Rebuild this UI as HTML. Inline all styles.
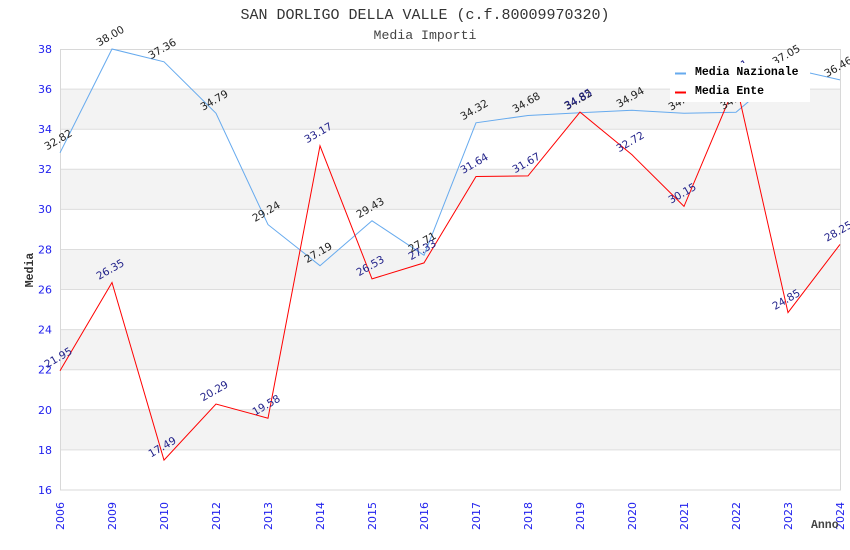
<!DOCTYPE html>
<html><head><meta charset="utf-8">
<style>
html,body{margin:0;padding:0;background:#fff;}
svg{display:block;}
.tk{font-family:"DejaVu Sans","Liberation Sans",sans-serif;font-size:11px;fill:#2222ee;}
.lb{font-family:"DejaVu Sans","Liberation Sans",sans-serif;font-size:10.5px;}
.mono{font-family:"Liberation Mono","DejaVu Sans Mono",monospace;}
</style></head>
<body>
<svg width="850" height="550" viewBox="0 0 850 550" xmlns="http://www.w3.org/2000/svg">
<rect width="850" height="550" fill="#fff"/>
<text x="425" y="19" text-anchor="middle" class="mono" font-size="15" fill="#333">SAN DORLIGO DELLA VALLE (c.f.80009970320)</text>
<text x="425" y="39" text-anchor="middle" class="mono" font-size="13.2" fill="#444">Media Importi</text>

<!-- bands -->
<g fill="#f3f3f3">
<rect x="60" y="89.1" width="780" height="40.1"/>
<rect x="60" y="169.3" width="780" height="40.1"/>
<rect x="60" y="249.5" width="780" height="40.1"/>
<rect x="60" y="329.6" width="780" height="40.1"/>
<rect x="60" y="409.8" width="780" height="40.1"/>
</g>
<g stroke="#dddddd" stroke-width="1">
<line x1="60" x2="840" y1="89.1" y2="89.1"/>
<line x1="60" x2="840" y1="129.2" y2="129.2"/>
<line x1="60" x2="840" y1="169.3" y2="169.3"/>
<line x1="60" x2="840" y1="209.4" y2="209.4"/>
<line x1="60" x2="840" y1="249.5" y2="249.5"/>
<line x1="60" x2="840" y1="289.5" y2="289.5"/>
<line x1="60" x2="840" y1="329.6" y2="329.6"/>
<line x1="60" x2="840" y1="369.7" y2="369.7"/>
<line x1="60" x2="840" y1="409.8" y2="409.8"/>
<line x1="60" x2="840" y1="449.9" y2="449.9"/>
</g>
<rect x="60.5" y="49.5" width="780" height="440.5" fill="none" stroke="#d8d8d8" stroke-width="1"/>

<!-- y ticks -->
<g class="tk" text-anchor="end">
<text x="52" y="53">38</text>
<text x="52" y="93">36</text>
<text x="52" y="133">34</text>
<text x="52" y="173">32</text>
<text x="52" y="213">30</text>
<text x="52" y="253.5">28</text>
<text x="52" y="293.5">26</text>
<text x="52" y="333.5">24</text>
<text x="52" y="373.5">22</text>
<text x="52" y="414">20</text>
<text x="52" y="454">18</text>
<text x="52" y="494">16</text>
</g>
<!-- x ticks -->
<g class="tk" text-anchor="end">
<text transform="translate(64,502) rotate(-90)">2006</text>
<text transform="translate(116,502) rotate(-90)">2009</text>
<text transform="translate(168,502) rotate(-90)">2010</text>
<text transform="translate(220,502) rotate(-90)">2012</text>
<text transform="translate(272,502) rotate(-90)">2013</text>
<text transform="translate(324,502) rotate(-90)">2014</text>
<text transform="translate(376,502) rotate(-90)">2015</text>
<text transform="translate(428,502) rotate(-90)">2016</text>
<text transform="translate(480,502) rotate(-90)">2017</text>
<text transform="translate(532,502) rotate(-90)">2018</text>
<text transform="translate(584,502) rotate(-90)">2019</text>
<text transform="translate(636,502) rotate(-90)">2020</text>
<text transform="translate(688,502) rotate(-90)">2021</text>
<text transform="translate(740,502) rotate(-90)">2022</text>
<text transform="translate(792,502) rotate(-90)">2023</text>
<text transform="translate(844,502) rotate(-90)">2024</text>
</g>

<text transform="translate(33,270) rotate(-90)" text-anchor="middle" class="mono" font-size="11.5" font-weight="bold" fill="#333">Media</text>
<text x="811" y="528" class="mono" font-size="11.5" font-weight="bold" fill="#444">Anno</text>

<!-- series -->
<polyline fill="none" stroke="#66aaee" stroke-width="1" points="60,152.8 112,49 164,61.8 216,113.3 268,224.6 320,265.7 372,220.8 424,255.3 476,122.8 528,115.5 580,112.7 632,110.3 684,113.3 736,112.3 788,68 840,79.9"/>
<polyline fill="none" stroke="#ff0000" stroke-width="1" points="60,370.7 112,282.5 164,460.1 216,404 268,418.2 320,145.8 372,278.9 424,262.9 476,176.5 528,175.9 580,112.1 632,154.8 684,206.4 736,82.9 788,312.6 840,244.4"/>

<!-- labels nazionale -->
<g class="lb" fill="#222" text-anchor="middle">
<text transform="translate(60,142.8) rotate(-30)">32.82</text>
<text transform="translate(112,39) rotate(-30)">38.00</text>
<text transform="translate(164,51.8) rotate(-30)">37.36</text>
<text transform="translate(216,103.3) rotate(-30)">34.79</text>
<text transform="translate(268,214.6) rotate(-30)">29.24</text>
<text transform="translate(320,255.7) rotate(-30)">27.19</text>
<text transform="translate(372,210.8) rotate(-30)">29.43</text>
<text transform="translate(424,245.3) rotate(-30)">27.71</text>
<text transform="translate(476,112.8) rotate(-30)">34.32</text>
<text transform="translate(528,105.5) rotate(-30)">34.68</text>
<text transform="translate(580,102.7) rotate(-30)">34.82</text>
<text transform="translate(632,100.3) rotate(-30)">34.94</text>
<text transform="translate(684,103.3) rotate(-30)">34.79</text>
<text transform="translate(736,102.3) rotate(-30)">34.84</text>
<text transform="translate(788,58) rotate(-30)">37.05</text>
<text transform="translate(840,69.9) rotate(-30)">36.46</text>
</g>
<!-- labels ente -->
<g class="lb" fill="#22228a" text-anchor="middle">
<text transform="translate(60,360.7) rotate(-30)">21.95</text>
<text transform="translate(112,272.5) rotate(-30)">26.35</text>
<text transform="translate(164,450.1) rotate(-30)">17.49</text>
<text transform="translate(216,394) rotate(-30)">20.29</text>
<text transform="translate(268,408.2) rotate(-30)">19.58</text>
<text transform="translate(320,135.8) rotate(-30)">33.17</text>
<text transform="translate(372,268.9) rotate(-30)">26.53</text>
<text transform="translate(424,252.9) rotate(-30)">27.33</text>
<text transform="translate(476,166.5) rotate(-30)">31.64</text>
<text transform="translate(528,165.9) rotate(-30)">31.67</text>
<text transform="translate(580,102.1) rotate(-30)">34.85</text>
<text transform="translate(632,144.8) rotate(-30)">32.72</text>
<text transform="translate(684,196.4) rotate(-30)">30.15</text>
<text transform="translate(736,72.9) rotate(-30)">36.31</text>
<text transform="translate(788,302.6) rotate(-30)">24.85</text>
<text transform="translate(840,234.4) rotate(-30)">28.25</text>
</g>

<!-- legend -->
<rect x="670" y="63" width="140" height="39" fill="#fff"/>
<rect x="675" y="72.5" width="11" height="2" fill="#66aaee"/>
<rect x="675" y="91.5" width="11" height="2" fill="#ff0000"/>
<text x="695" y="75" class="mono" font-size="11.5" font-weight="bold" fill="#000">Media Nazionale</text>
<text x="695" y="94" class="mono" font-size="11.5" font-weight="bold" fill="#000">Media Ente</text>
</svg>
</body></html>
